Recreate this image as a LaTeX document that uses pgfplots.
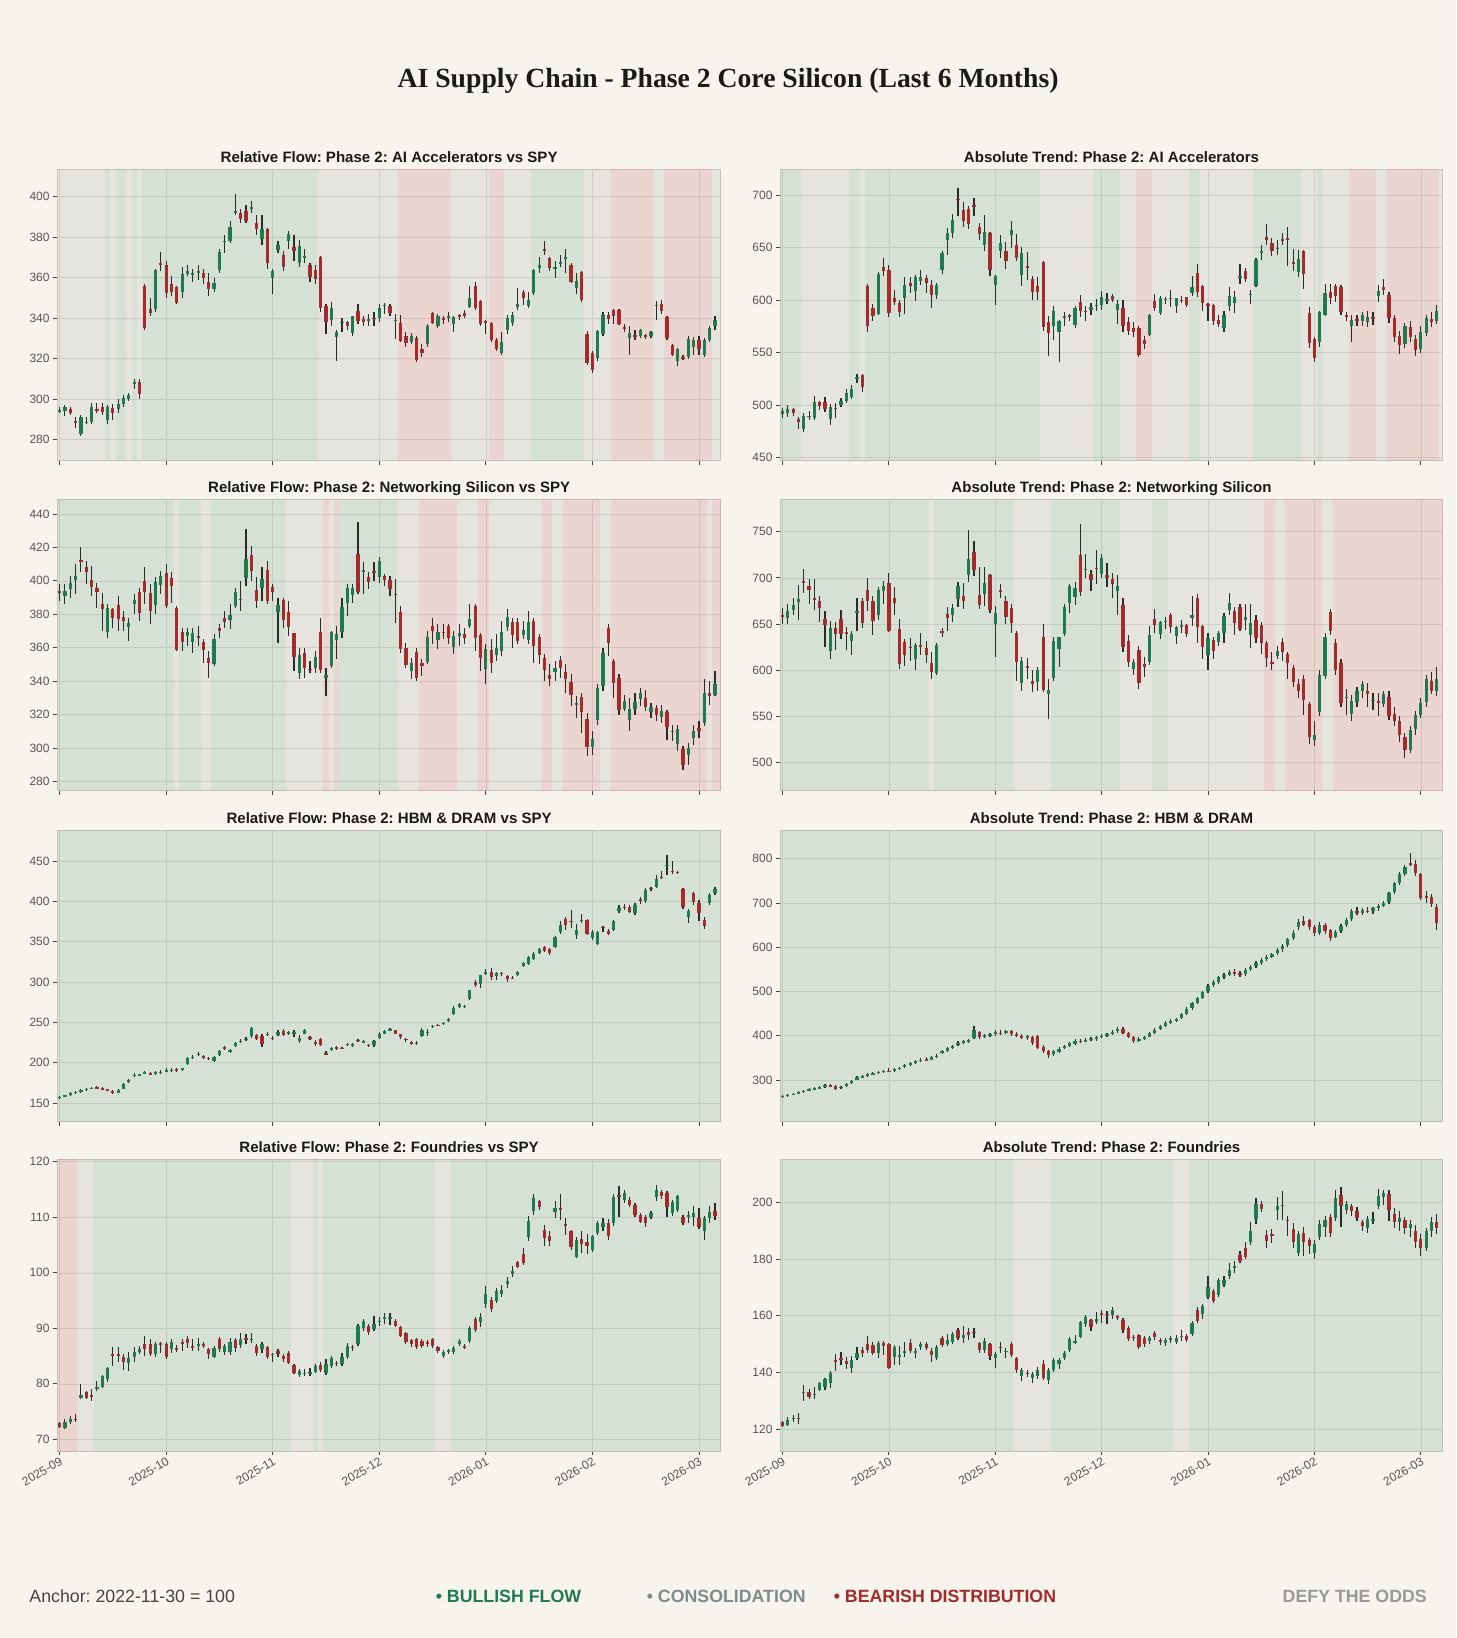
\documentclass[border=0pt]{standalone}
\usepackage{fontspec}
\setmainfont{Liberation Sans}
\newfontfamily\titfont{Liberation Serif}
\usepackage{pgfplots}
\usepackage{pgfplotstable}
\pgfplotsset{compat=1.18}
\definecolor{bg}{HTML}{F7F4EE}
\definecolor{bull}{HTML}{1E7B4F}
\definecolor{bear}{HTML}{A52A2A}
\definecolor{cons}{HTML}{7F8C8D}
\definecolor{wickc}{HTML}{2A2A2A}
\definecolor{framec}{HTML}{D3CCC4}
\definecolor{gridc}{HTML}{DEDAD3}
\definecolor{tickc}{HTML}{555555}
\definecolor{tickm}{HTML}{444444}
\definecolor{titc}{HTML}{1A1A1A}
\definecolor{footc}{HTML}{444444}
\definecolor{defyc}{HTML}{999999}

\pgfplotsset{
 panel/.style={
  scale only axis, height=279pt,
  xmin=-0.4, xmax=124.1,
  axis background/.style={fill=bg},
  axis line style={draw=framec, line width=0.9pt},
  grid=major, major grid style={draw=gridc, line width=0.6pt},
  xtick={0,20,40,60,80,100,120},
  xticklabels={,,,,,,},
  tick align=outside, major tick length=4pt,
  tick style={draw=tickm, line width=0.8pt},
  tick pos=left,
  every tick label/.append style={font=\fontsize{11.5}{13}\selectfont, text=tickc},
  /pgf/number format/assume math mode=true,
  scaled y ticks=false,
  title style={font=\frenchspacing\bfseries\fontsize{14.4}{16}\selectfont, text=titc, at={(0.5,1)}, anchor=base, yshift=0.5pt},
 },
 datelabels/.style={xticklabels={2025-09,2025-10,2025-11,2025-12,2026-01,2026-02,2026-03},
   xticklabel style={rotate=30, anchor=north east, inner sep=1pt}},
 /pgfplots/error bars/draw error bar/.code 2 args={\path[/pgfplots/every error bar] #1 -- #2;},
}

\newcommand{\band}[3]{\addplot[forget plot, mark=none, draw=none, fill=#3, fill opacity=0.15] coordinates {(#1,\ylo) (#1,\yhi) (#2,\yhi) (#2,\ylo)};}
\newcommand{\candles}[1]{%
\addplot[forget plot, mark=none, draw=none, error bars/.cd, y dir=both, y explicit, error mark=none, error bar style={draw=wickc, line width=1.1pt}]
 table[x expr=\coordindex, y expr={0.5*(\thisrow{h}+\thisrow{l})}, y error expr={0.5*(\thisrow{h}-\thisrow{l})}]{#1};
\addplot[forget plot, mark=none, draw=none, error bars/.cd, y dir=both, y explicit, error mark=none, error bar style={draw=bull, line width=3.1pt}]
 table[x expr=\coordindex, y expr={\thisrow{o}+0.5*max(\thisrow{c}-\thisrow{o},0)}, y error expr={0.5*max(\thisrow{c}-\thisrow{o},0)}]{#1};
\addplot[forget plot, mark=none, draw=none, error bars/.cd, y dir=both, y explicit, error mark=none, error bar style={draw=bear, line width=3.1pt}]
 table[x expr=\coordindex, y expr={\thisrow{c}+0.5*max(\thisrow{o}-\thisrow{c},0)}, y error expr={0.5*max(\thisrow{o}-\thisrow{c},0)}]{#1};
}

% Relative Flow: AI Accelerators vs SPY
\pgfplotstableread{
o h l c
294 296 293 294.5
294 297 291.5 296
295 296 292 293
289.5 291 286 288.5
283 292 282 291
288.5 291 288 289
289 298 288 296
295 298 293 294.5
296 298 292 293.5
290 297 288 296
295.5 297.5 290 293
295 300 293 297.5
297.5 302 296 300.5
300 303 299 302
308 310 305 308.5
308.5 310 300 302.5
356 357 334 335
344.6 350 341 342.6
344.6 364 343 363.6
367 372.5 363 366
366 368 350 352.5
357 361 351 353
355.5 356 347 347.5
353 365 350 361.5
361.5 366 361 363
361.5 364 358 362.2
362.3 366 359 363
362 364 357 360
358 362 351 354.5
354.5 360 353 357.5
363.6 374 362 372.5
377.5 381 372 378.2
378 388 377 385
392 401.3 391 392.6
392 394 387 389
393 396 387 388
394 397.5 392 394.6
387 391 381 384
379 391 376 384
384 384.5 364 367
360 364 352 363
373.5 378 372 376
371 373 363 365
378 383 374 381.5
375 381 368 373
367 378.5 365 375.5
370 374 367 370.5
366 367 358 360.5
363.5 366 357 359.5
370 370.5 343 345
346 347 332 338
339 348 336 345
330.5 334 319 333
337.5 340 333 338.2
338 338.5 334 336
332.5 341 331 341
343.5 347 337 338.5
339.5 341 336 338
338.5 342 336 339.5
340.2 343 336 339.7
340 347 338 345
346 347.5 342 346.6
346 347 341 342.5
338.5 342 329.5 339.2
337.5 341.5 328 328.5
331 333 326 327.5
328 332.5 327 331
330 331 318.5 319.5
325 327 321 323
327 337 326 336
342.5 343 337 337.5
336 342 335 341
340 341 337 339.5
340 343 338 341
337 341 333 340.5
341.5 342 339 340.7
342.5 344 340 341
345.5 356 345 350
356 358 344 345
348.5 349 336 337
338.5 339 332 338
337.5 338 328 329
329 330 324 325
323 333 322 328
334 341.5 332 340
337.5 343 336 341.5
345.5 355 344 347
353 354 346.5 350
346 353 345 349
352.5 364 351.5 363.5
364.5 370 362 366
374 378 371 373
369.5 370 363 364.5
364.5 368 360 365
367 371 365 367.6
369.5 374 362 370.2
366 367 357.5 358
355 362 352 358.5
362.5 363 348 349
332 333.5 317 318
323 324 313 314.5
320.5 334 319 333.5
332 343 331 341.5
341.5 343 337 339.5
344 344.5 337 341
344 344.5 336.5 337
335.5 337 333 334.5
330 336 322 332.5
331.5 334 329 331
331 334.5 330 334
331.5 332 329.5 331
331 333.5 330 333
346 348.5 339 346.6
347 349 342 343.5
340.5 341 329 330
326.5 327 321.5 322
319 325.5 316.5 325
321 322 319.5 320
321 331 320 329.5
326 330.5 322 329
329 331 322 325
322 330 321 329
329 336 328 335
336 341 334 339
}\tA

% Absolute: AI Accelerators
\pgfplotstableread{
o h l c
491 497 488 494
492 500 489 496.5
496 497 490 492
486.5 489 477 484
477 492 474 489.5
489 494 486 489.6
488 509 486 503
502.5 504 495 498.7
503 508 493 496
487 501 481 498.5
497.5 502 488 496.5
500 507 498 503.5
503.5 515 502 511
507.5 519 506 515.5
525.5 530 521 526.4
529 530 512 517
613 615 570 575
592 596 580 584.5
587 627 586 625
631.5 640 623 628
628.5 633 584 587.5
602 610 595 598
597 600 584 588.5
601.5 622 587 614.5
616 622 607 613.5
609 624 599 622
618 629 614 622
621 624 607 616.5
614 619 592 604.5
605 616 601 614
628.5 647 625 644.5
657 669 643 663.5
663.5 682 659 676.5
696.5 707 680 695.5
686 693 670 675.5
687 690 668 672
690.4 697 680 689
669.5 673 657 662.5
652 681 647 665
664 665 623 628.5
614 624 595 623
646.5 662 640 654
646.5 655 630 637.5
662 675 650 666.5
652.5 663 637 640
624 651 613 644.5
632 646 619 631.5
620 623 600 608
613.5 622 600 608
636 637 571 574
579 585 547 568.5
575 594 562 590
570 581 541 580
582.5 589 575 585
585.5 587 580 585
576 594 573 592.5
598 605 584 589.5
589.7 594 580 589
591 597 586 593
595 601 590 595.6
595.5 609 591 602.5
600 607 596 600.6
603.5 606 598 600.5
591 600 577 596.5
592.5 600 570 575.5
579 584 567 570.5
573 579 565 569.5
573 575 546 548
562 566 553 558
567 587 566 586
599.5 606 590 592.5
588 604 586 601.5
600.5 603 596 600.8
601 610 593 602
594 602 588 601.5
600.5 604 597 599.5
602.5 603 593 595.5
607 623 604 612
626 634 603 608
613 614 590 597
596 597 580 595
595 596 576 580.5
581 586 574 577
573.5 590 570 585.5
594 612 590 604
597 609 588 602.5
622 634 615 622.6
628 631 617 620
605.5 610 596 606.2
613 640 612 638
644.5 652 638 647
660.5 672 652 657.5
654 659 642 646.5
648.5 657 643 650
658 664 652 657
659 670 632 657.5
636 649 628 635.4
627 648 622 639
647 648 611 624.5
588 593 554 559.5
563 565 541 545
560 590 555 589
586 615 585 607
608 615 596 601.5
613.5 615 598 604
612 614 586 589
586 589 580 584.5
575 586 560 581
581.5 586 575 580.8
580 589 575 586
579 590 574 584
584 589 576 582
604 614 598 609
612.5 620 605 610
605 608 578 583
583 586 560 565
566 571 549 557
558 578 554 575
574 580 560 565
563 567 547 552
553 575 550 570
569 586 566 583
582 589 574 579
580 595 577 590
}\tB

% Relative: Networking Silicon vs SPY
\pgfplotstableread{
o h l c
393.8 398 388 393.2
391 398 386 394
395 403 390 399
400.6 410 392 403
412.6 420 405 411.2
408 412 398 405
400.6 409 391 396.6
396 399 384 393.6
386 393 370 383
369.6 386 366 383.6
383.2 384 372 378
385.6 391 370 377.2
378.2 382 370 376.2
372.6 378 364 374.6
386 392 380 388.6
393.6 396 376 380.6
400.2 408 386 393.6
392.6 398 374 382
385.6 402 380 399.6
397.6 406 392 402.6
404.6 410 384 385.2
401.6 405 387 397.2
383.6 385 358 358.6
369.2 372 358 363.2
367 372 361 369.6
363.2 372 357 368.6
366.8 373 361 366.4
363.6 365 351 358.6
353.6 358 342 350.6
350 368 349 365.2
371.6 374 366 370
378 382 372 375.2
376.6 386 371 379.6
385.2 396 384 393.2
389.2 400 382 389
401.6 431 397 413.2
415.6 421 400 405.6
394.6 402 384 388.2
395.6 408 388 401
406.4 412 386 388
396.6 398 388 393.6
381.2 390 363 385.6
388.6 390 372 376.6
381.2 388 367 372.6
368.6 369 346 354.6
344.6 360 341 355.6
356.6 360 342 347.6
347.4 352 345 347
347.6 358 345 354.6
369.6 378 345 346.6
342 348 331 343.6
349.2 370 348 369.2
364.6 373 353 368
369.6 390 366 384.6
386.6 398 379 395.6
391.6 398 387 396
416 435 392 393.2
405.8 411 392 406.2
402 405 395 399.2
406 411 400 404.6
402 414 399 412
402.6 404 397 400.6
400.6 403 391 395.2
392.2 401 375 392
381.6 385 357 359.2
360 363 348 349.6
346 354 341 350.6
357.6 360 340 342
350.6 353 343 349.2
351.2 370 350 366.6
373.2 378 362 370
364.6 374 359 369.2
369.6 374 365 369.4
372.8 374 362 365.6
360.6 370 356 367.2
367.2 374 361 368.6
368 372 362 366
373.2 386 372 377
385.2 386 358 365.6
367.6 369 346 354
347.2 362 338 359.2
358.6 365 345 350.6
355.6 368 352 360
358 376 355 369.6
372.6 383 370 378.6
375.2 378 360 367.6
375.6 378 362 364
367.6 376 365 370.6
364.6 382 362 375.2
376 378 351 361.2
366.6 368 350 355.6
354 356 340 346.6
343.6 350 337 341.2
345.6 352 340 347.6
352.6 355 342 347.6
345.6 350 333 341.2
339.6 344 325 331.6
326.4 331 318 326.8
330.6 333 309 321.6
317.6 321 295 300.6
300.6 310 296 305.2
316.6 338 314 335.6
337.2 360 334 356.6
372 374 355 362.6
352 353 330 338.6
342 344 320 322.6
323.6 332 322 328
316.6 330 310 323.6
323.2 333 320 327.6
329.2 336 325 333.2
330 335 322 324.6
321.6 327 318 324.6
324 326 316 319.6
318.6 326 315 322
321.6 323 305 312.6
309.8 314 304 310.2
302.6 314 298 311.2
299.6 301 287 289.6
296 303 290 300
306 314 302 310
312 316 306 310
315 341 313 333
333 340 326 331
332 346 331 338
}\tC

% Absolute: Networking Silicon
\pgfplotstableread{
o h l c
660 667 650 658.5
656.5 672 650 663.8
665.6 678 660 671
674 692 654 677.5
696.4 710 684 694.6
691 699 672 687.3
678.3 699 665 676.5
675.4 680 652 667.4
655.8 664 625 648.6
621 653 612 645.5
645.5 652 622 639
655.8 665 634 639
641 647 622 640.5
632 642 617 639.3
661.6 678 643 663.8
674.6 678 646 651
687.3 700 664 674.6
674.6 680 638 653
659.4 690 654 687.3
685.5 697 672 691
694.6 705 641 642.8
678.3 690 660 672.8
645 656 601 606.5
630.4 634 605 616
625.2 635 610 624.8
612.3 630 600 626.8
627 640 616 626.4
624 632 608 616
607.7 620 590 598.5
596.8 630 595 626.8
642.8 646 636 640.2
660.4 668 643 656.5
660 672 652 667.4
677.5 695 668 691
680.4 694 666 674.6
702.9 752 696 719.9
728.3 740 702 708
681.8 712 666 670.3
682.6 712 670 694.6
702.9 704 662 665.6
650 670 614 662
686.4 693 678 685.6
675.4 680 650 657.3
667.4 672 640 651
640.2 642 588 609.4
585.8 614 578 610
605 613 590 603
588.4 600 576 584.8
587.8 603 578 600.4
635.6 650 576 578.6
573.9 590 547 578.6
591.3 636 588 631.2
623.2 636 603 635.5
639.5 672 637 668.1
672.8 693 662 691
679 695 671 689
724.6 758 680 684.8
709 726 700 709.6
704.3 708 686 698.2
711 730 693 710.4
704.3 726 700 721
703.6 716 690 700
699.3 705 678 693.5
686.2 703 660 691
671 678 620 625.7
632 638 603 608.7
601.4 612 595 608.7
622 626 580 585.8
606.5 614 593 604
608.7 648 606 638.4
655.8 666 640 648.6
639 653 634 652.2
652.2 658 645 653.6
659.4 662 640 646.4
636.6 648 628 646.4
647.5 654 640 649.3
648.6 650 636 639.2
656.5 680 648 659.4
678.3 682 630 646.4
647.5 649 612 625.7
616.7 640 600 634.8
632.9 636 612 621
630.4 642 626 640.2
640.2 662 630 658.3
665.6 684 660 672.8
664.5 668 638 651
668.1 672 642 644.9
654.7 672 644 657.3
638.4 672 624 651
654.7 660 630 634.8
649.3 652 618 629.3
629.3 632 604 613
608.7 620 600 606.5
614.9 626 612 620.3
630.4 635 610 619.5
617.4 620 590 607.6
602.2 606 582 587.7
584.8 590 570 577.5
590.6 595 552 567.8
563 566 520 527.9
524.3 545 518 530.4
555 600 550 595
594.2 640 590 635.5
663 666 638 642.8
629.3 634 595 600.4
607.6 612 560 564.1
570 580 552 571
552.2 573 545 566.7
566 582 560 577
577.5 588 570 585
577 586 560 574
566.7 575 557 568
566.7 575 550 564.1
564 578 560 574
571 578 546 551
553 560 540 545
545 550 522 530
528 532 505 514
514 540 510 535
536 556 530 552
552 570 548 565
566 595 560 590
588 598 574 578
578 604 572 590
}\tD

% Relative: HBM & DRAM vs SPY
\pgfplotstableread{
o h l c
156.5 159 155 158
158 160.5 157 159.5
160 163.5 159 162.5
162.5 165.5 161.5 164
164 167 163 166
166.5 169 165.5 167.5
168 170.5 167 169
169.5 171 167.5 168.5
168.5 169.5 166 167.5
167 168 164.5 165.5
165.5 166 161.5 162.5
163 167 162 166
168 174.5 167 173.5
176 180 175 178.5
183.5 187 182 185
184.5 186 183 185.5
187 190 186 188
187 188 185 186
186 190 185 189
188 191 186 189
190 193 189 190.6
190 193 189 191.5
192 193 189 190
191.5 194 190 193
198 207 197 205.5
206 210 204 207
210 213 208 211
208.5 210 204 205.5
206 207 203 205.4
202.5 208 201 206.5
209 216 208 214
219 221 216 217.5
213 217 212 215.5
220.5 226 219 224.5
226 230 225 227.5
229 232 227 230
233 244 231 242.5
234.5 236 228 229
233 236 220 223
235 238 233 236
231 233 228 230
234.5 240 233 238
239 242 233 234.5
235 239 234 238
236.5 240 232 237.5
227.5 234 225 231
236 242 235 240
232 232.5 228 229
226 228 221 224
230 231 221 222.5
212 214 209 210.5
216 220 215 218
220 221 216 217.5
218.5 220 217 217.5
223.5 225 221 222
222 224 219 222.6
228.5 230 226 227.5
225.5 228 224 226.5
222 223 220 221.4
222 228 220 226.5
231 238 230 236
236 241 235 239.5
240 243 239 241.5
240 241 235 236
235 236 230 232
230 231 226 229
226 227 222 223
224 227 222 225
233 243 232 240
237 242 233 238
244.5 247 243 245.5
247 248 245 246
248.5 251 247 249.5
252 255 251 254
260 270 259 268
269.5 274 268 272.5
270 272 268 270.6
278.5 290 278 289.5
300.5 302 294 296.5
297 309 292 308.5
311 316 309 312
312 317 302 306.5
307 313 303 311
311.5 313 307 310.5
307.5 309 300 303.5
305.5 307 304 305
309 314 307 313
320 325 319 324
322 332 321 330.5
328 337 327 335
336.5 342 335 340.5
343 345 337 339
340.5 342 334 335.5
343 357 342 356
362.5 375 359 371
378 380 365 371
376 389 367 375
358.5 372 353 364.5
376 384 373 377
376.5 378 358 359.5
355 364 352 361.5
347 363 346 361.5
368 370 362 367.5
363.5 366 358 359.5
364.5 377 363 376
387.5 396 386 391.5
393.5 397 389 393
393.5 395 385 386.5
385 398 383 396
403 405 397 400
400 416 398 414
417 418 413 415
418 432 416 428
430.5 437 428 430
444 457 432 445
438 450 434 437.5
436 438 434 435.5
415 416 390 393
380 390 373 387.5
410 412 395 399
398 402 375 385
377 381 366 370
398 410 395 408
410 418 408 415
}\tE

% Absolute: HBM & DRAM
\pgfplotstableread{
o h l c
262 266 260 264
264 268 262 266.5
267 271 265 269
270 274 268 272
273 278 271 276
277 281 275 278.5
279 283 277 281
281 286 279 283
283 290 282 288
288 291 284 285
286 288 278 280.5
281 287 279 285
286 293 284 291
293 300 291 298
301 309 299 306
306 312 304 309.5
309 315 306 313
313 319 311 316
316 321 313 318
319 323 315 321
321 326 317 319
320 326 318 324
325 330 322 328
330 336 328 334
335 340 332 338
338 345 335 342
343 349 341 346
347 351 343 345
346 354 344 351
352 358 349 355
360 368 358 365
366 375 364 372
373 380 370 377
378 387 376 384
385 391 381 387
386 393 383 391
395 422 393 413
408 411 393 397
398 405 394 402
401 407 397 404
404 412 400 409
407 413 401 405
406 414 403 411
410 412 400 403
404 408 397 400
400 405 393 396
397 402 390 399
396 399 380 384
400 402 370 372
375 380 362 366
365 368 350 357
358 368 355 365
364 375 362 371
372 379 369 376
377 386 374 383
382 392 380 388
389 393 384 387
387 394 385 391
391 397 388 393
392 399 389 396
397 403 394 400
400 407 397 404
405 412 402 409
410 420 407 416
416 419 404 407
406 409 395 398
398 400 384 388
389 396 385 393
394 400 390 397
398 409 396 406
406 417 404 414
415 425 412 422
422 433 419 429
430 437 426 434
434 441 430 437
440 452 437 449
450 464 447 461
462 476 459 473
474 488 471 485
486 502 483 499
500 517 497 513
514 526 510 521
522 536 518 532
533 542 528 537
538 549 535 545
545 550 536 540
541 547 533 538
539 552 536 549
550 560 546 556
557 568 553 564
565 576 561 572
573 582 569 578
579 588 575 585
586 598 582 594
595 608 590 603
604 622 600 618
620 638 616 633
645 665 640 658
660 670 648 651
662 665 640 645
645 650 625 632
632 656 628 651
650 655 630 636
638 642 615 622
624 638 620 634
636 652 632 648
650 666 646 662
664 686 660 681
683 690 673 678
677 688 672 684
683 692 678 680
681 691 676 688
688 698 683 694
694 705 690 701
702 726 698 722
724 748 720 745
746 770 740 765
766 786 760 781
790 812 783 788
788 798 760 769
765 768 706 712
715 728 700 711
713 720 690 697
692 698 640 655
}\tF

% Relative: Foundries vs SPY
\pgfplotstableread{
o h l c
72.9 73.1 72.1 72.3
72.1 73.6 71.9 73.1
73.1 74.2 72.8 73.6
73.7 74.6 73.2 73.5
77.5 80 77.2 78
78.6 78.8 77.3 77.5
78 79 77 77.8
79 80.5 78.8 79.5
79.4 81.6 79.2 81.4
80.8 83.1 80.3 82.9
85.3 86.6 83.3 85.1
85.3 86.6 84 85.1
84.9 85.3 82.5 84
83.7 85.8 82.3 84.7
84.9 86.6 84 85.7
85.7 86.9 85.3 86.3
87.2 88.6 85 86.3
87.2 88 85 85.4
85.4 87.6 84.8 87.2
87.3 87.6 85.5 87.1
87.2 87.6 84.5 84.8
86.3 88 85.5 87.6
86.4 87 85.7 86.2
87.5 88 86 87.3
88.1 88.6 86.5 87.3
86.8 88.1 86 86.6
87 88.2 86 87.15
87.2 87.6 86.5 86.9
86.3 86.5 84.5 85.3
84.9 86.9 84.6 86.4
88.1 88.5 85.8 86.3
85.8 87.2 85.2 86.8
85.7 88.2 85.2 87.5
87.9 88.2 85.8 86.4
87 89.2 86.5 88
88.2 89 87.2 87.9
87.9 89.2 87.3 88.1
86.9 87.2 85.1 85.5
86.2 87.5 85.6 87.2
86.6 86.9 84.4 84.8
85.2 85.6 84 85.4
86 86.2 84.9 85.3
85 85.3 84 84.4
85.6 86 83.5 83.7
83.4 83.6 81.7 82
81.6 82.7 81.2 82.3
81.85 82.6 81.4 82
81.7 82.8 81.5 82.2
82.2 83.5 82 83.2
83.4 83.9 82.2 82.5
81.9 84.5 81.6 83.6
83.3 85.1 82.9 84.6
83.8 84.1 83.3 83.6
83.6 85.5 83.2 84.8
84.8 87.3 84.5 86.9
86.7 87 85.9 86.4
87.2 90.8 86.9 90.5
90.1 91.7 89.5 91.4
90.5 90.8 88.8 89.3
89.9 92.2 89.5 90.8
91.2 92.1 90.4 91.35
91.7 92.7 90.8 92.1
91.6 92.7 90.6 92.1
91.4 91.6 90.2 90.5
90.3 90.5 88.4 88.7
89.1 89.3 87.2 87.5
87.9 88.1 86.6 87.2
88.1 88.3 86.3 86.7
87.8 88 86.5 86.9
87.5 87.9 86.7 87.1
88.1 88.3 86.5 86.9
86.6 86.9 85.6 85.9
85.1 86.1 84.6 85.7
85.7 86.3 85.4 86.1
85.7 86.8 85.4 86.5
87.1 88 86.8 87.7
86.8 87.1 86.3 86.6
87.7 90.4 87.4 90.1
91.7 92 89.3 89.7
91.1 92.8 90.3 92
94.3 97.6 93.7 96.1
95.1 95.6 93 93.5
94.9 97.2 94.6 96.8
96.1 97.8 95.7 96.9
97.9 99.3 97.3 98.6
99.8 101.2 99.2 100.4
101.9 102.2 100.8 101.1
103.4 104.5 101.4 101.7
106.4 110.3 105.8 109.3
111.1 114.2 110.5 113.4
112.9 113.2 111.4 111.9
107.7 108.7 104.9 106.3
106.6 107.5 104.9 105.8
111 113 109.9 111.6
111.6 114.2 109.5 111.4
108.8 109.8 106.9 108.6
107.5 107.8 104.2 104.6
102.9 106.5 102.6 106
106.1 107.5 103.5 105.2
105.5 107 103.4 104.9
104.2 106.8 103.8 106.6
107.2 109.4 106.8 109
108.3 109.9 107.5 109
109 109.7 106 106.7
108.9 114.2 108.5 113.6
114 115.7 110 113.8
113.1 115 112.5 114.3
113.2 113.6 111.8 112.2
112.2 112.6 110 110.4
110.4 110.7 108.9 109.2
110.1 110.4 108.3 108.9
110.1 111.1 109.7 110.8
113.6 115.9 113 115
114.6 114.9 113.3 113.8
114.4 114.7 110 111.9
110.7 113.2 110.2 112.8
111.4 114.1 111 113.8
110.1 110.5 108.7 109
110.1 111.2 109 110.5
110 112 108.5 110.8
109.8 111.7 107.9 108.3
107.5 110.3 106 109.8
109.8 112 109 111
111.2 112.5 109.5 110.2
}\tG

% Absolute: Foundries
\pgfplotstableread{
o h l c
122.3 122.8 120.6 121.1
121.5 124.2 121 123.2
123.6 125 122.5 123.8
124 125.6 121.8 123.7
133 135.5 130 133.2
133.2 134 130.6 131.4
132.2 134.8 130.5 132.4
133.8 136.5 133.5 136.1
134.7 138.1 133.6 137.5
136.1 140.5 134.6 139.9
144.2 146.6 140.6 144
144.9 147.3 142.5 144.3
144.1 145.4 141.3 143.1
141.7 145.8 139.8 144.5
145.2 148.9 144.4 146.7
147.9 148.8 145.6 146.7
149.9 152.7 147 148
149.6 150.6 146 146.7
146.7 151.2 145.2 150.5
150.4 151 146 149.2
149.9 150.5 141.1 141.4
145.5 149.6 142.6 149
145.5 149.4 142.5 146.1
147 150.7 145.5 147.5
150.2 151.8 147 147.6
146.7 148.6 145 147.6
149 150.7 148 150
149.9 150.9 148 148.7
147.7 148.5 143.5 146
144.9 149.5 144.2 149
152.3 152.8 149 149.6
149.9 153.5 149.2 151.6
150.8 154.2 150 153.7
155.1 155.6 151.4 152
152.3 156.5 150.4 153.1
154.3 155.6 151.5 153.1
154.4 155.8 152.2 154.2
150.2 150.6 146.8 147.8
147.8 152.3 147 151.1
150 150.5 144.5 145.7
145 147.3 141.7 146.6
149.1 150.6 146.8 149
147.5 148.5 145 147.7
150 150.8 145.3 146.1
144.9 145.3 139.9 140.8
138.7 141.7 137 141
139.9 141 138.2 139.8
137.9 140.1 136.3 139.4
138.7 141.9 137.6 141
143.1 144.5 137.4 137.9
137.3 141.6 135.9 140.8
141 145.2 140.2 144.5
143.1 145 141.2 144.3
144.9 147.5 144.5 146.7
147.8 152.4 147.3 151.9
150.4 153.2 150 151.1
152.5 158.3 152 157.8
157.2 160.3 156.2 159.6
158.4 158.8 154.5 156
157.8 161.5 157 158.9
160.9 162.2 157.5 160.7
160.6 161.6 157 160.4
160.1 163 159 161.9
159.8 160.2 158.5 159.3
158.6 159.2 154 154.9
155.8 156.4 151.2 151.9
152.4 153.1 151 152.3
153.1 153.6 148.1 148.8
152.3 152.7 149.1 150
151.1 153 150 152.3
153.9 154.5 151.5 152.5
151.6 152 149.6 150.8
150.2 152 149.2 151.4
151.6 153 150.5 152.3
150.8 153.2 150 152.3
152.8 155 151.2 153
152.8 153.4 150.8 151.4
153.7 158 153 157.4
161.9 163 157.5 158.1
160.5 164.2 159 163.3
166.8 173.9 166 170.3
168.7 169.5 164.4 165.2
167.2 173.5 166.5 172.5
171 174.1 170 172.5
174.2 178.5 173 176
177.1 179.5 175 177.7
181.6 182.8 178.5 179.2
183.9 186 180 180.6
186 193.1 185 190.1
194.1 201.5 192.5 199.4
199.4 200.5 196.8 197.7
188.6 190.2 184 186.3
188.9 190.5 185.6 188.3
197.3 201.9 194 198.8
199 204 194 199.2
193.9 195.2 188.2 193.7
190.6 192.8 183.9 185.9
182.1 190.1 181 188.9
189.4 191.5 181.2 185.9
186.8 187.6 182 184.8
182.1 186.8 180.2 185.3
187.7 193.8 186.8 192.4
191.4 195.3 188 193.8
195 196 188 189.1
194.7 204.5 193.6 201.5
202.7 205.6 191.5 198.8
197.3 200.7 195.8 199.6
198.8 199.4 195.4 197.1
197.1 198.4 193.5 194.7
193 194 189.8 191.8
191 195.4 189.3 194.1
193.6 196.5 192.3 194.1
198.8 204.7 197.9 202.3
201.8 204.5 199 203.5
203.2 204.4 193.5 197.3
196 198 191 193
193 197 190 194.5
194 195 189 191
191 194 188 192.5
190 192 184 186
187 189 181 184
184 191 183 190
190 195 188 193
193 196 189 191
}\tH

\begin{document}
\frenchspacing
\begin{tikzpicture}
\fill[bg] (0pt,0pt) rectangle (1394pt,-1568pt);
\node[anchor=base, inner sep=0pt, font=\titfont\bfseries\fontsize{26.5}{30}\selectfont, text=titc] at (697pt,-84pt) {AI Supply Chain - Phase 2 Core Silicon (Last 6 Months)};

% Row 1 left
\def\ylo{268}\def\yhi{415}
\begin{axis}[panel, at={(55pt,-162pt)}, anchor=north west, width=635pt,
  ymin=269.7, ymax=413.4, ytick={280,300,...,400},
  title={Relative Flow: Phase 2: AI Accelerators vs SPY}]
\band{-1}{8.5}{cons}\band{8.5}{9.5}{bull}\band{9.5}{10.5}{cons}\band{10.5}{12.5}{bull}
\band{12.5}{13.5}{cons}\band{13.5}{14.5}{bull}\band{14.5}{15.5}{cons}\band{15.5}{48.5}{bull}
\band{48.5}{63.5}{cons}\band{63.5}{73.5}{bear}\band{73.5}{80.5}{cons}\band{80.5}{83.5}{bear}
\band{83.5}{88.5}{cons}\band{88.5}{98.5}{bull}\band{98.5}{103.5}{cons}\band{103.5}{111.5}{bear}
\band{111.5}{113.5}{cons}\band{113.5}{122.5}{bear}\band{122.5}{125}{cons}
\candles{\tA}
\end{axis}

% Row 1 right
\def\ylo{445}\def\yhi{727}
\begin{axis}[panel, at={(747pt,-162pt)}, anchor=north west, width=634pt,
  ymin=447, ymax=724.6, ytick={450,500,...,700},
  title={Absolute Trend: Phase 2: AI Accelerators}]
\band{-1}{3.5}{bull}\band{3.5}{12.5}{cons}\band{12.5}{14.5}{bull}\band{14.5}{15.5}{cons}
\band{15.5}{48.5}{bull}\band{48.5}{58.5}{cons}\band{58.5}{63.5}{bull}\band{63.5}{66.5}{cons}
\band{66.5}{69.5}{bear}\band{69.5}{76.5}{cons}\band{76.5}{78.5}{bull}\band{78.5}{88.5}{cons}
\band{88.5}{97.5}{bull}\band{97.5}{100.5}{cons}\band{100.5}{101.5}{bull}\band{101.5}{106.5}{cons}
\band{106.5}{111.5}{bear}\band{111.5}{113.5}{cons}\band{113.5}{123.5}{bear}\band{123.5}{125}{cons}
\candles{\tB}
\end{axis}

% Row 2 left
\def\ylo{272}\def\yhi{451}
\begin{axis}[panel, at={(55pt,-478pt)}, anchor=north west, width=635pt,
  ymin=274.4, ymax=448.75, ytick={280,300,...,440},
  title={Relative Flow: Phase 2: Networking Silicon vs SPY}]
\band{-1}{21.5}{bull}\band{21.5}{22.5}{cons}\band{22.5}{26.5}{bull}\band{26.5}{28.5}{cons}
\band{28.5}{42.5}{bull}\band{42.5}{49.5}{cons}\band{49.5}{50.5}{bear}\band{50.5}{51.5}{cons}
\band{51.5}{52.5}{bear}\band{52.5}{63.5}{bull}\band{63.5}{67.5}{cons}\band{67.5}{74.5}{bear}
\band{74.5}{78.5}{cons}\band{78.5}{80.5}{bear}\band{80.5}{90.5}{cons}\band{90.5}{92.5}{bear}
\band{92.5}{94.5}{cons}\band{94.5}{101.5}{bear}\band{101.5}{103.5}{cons}\band{103.5}{121.5}{bear}
\band{121.5}{122.5}{cons}\band{122.5}{125}{bear}
\candles{\tC}
\end{axis}

% Row 2 right
\def\ylo{467}\def\yhi{788}
\begin{axis}[panel, at={(747pt,-478pt)}, anchor=north west, width=634pt,
  ymin=469.5, ymax=785, ytick={500,550,...,750},
  title={Absolute Trend: Phase 2: Networking Silicon}]
\band{-1}{27.5}{bull}\band{27.5}{28.5}{cons}\band{28.5}{43.5}{bull}\band{43.5}{50.5}{cons}
\band{50.5}{63.5}{bull}\band{63.5}{69.5}{cons}\band{69.5}{72.5}{bull}\band{72.5}{90.5}{cons}
\band{90.5}{92.5}{bear}\band{92.5}{94.5}{cons}\band{94.5}{101.5}{bear}\band{101.5}{103.5}{cons}
\band{103.5}{125}{bear}
\candles{\tD}
\end{axis}

% Row 3 left
\def\ylo{124}\def\yhi{490}
\begin{axis}[panel, at={(55pt,-795pt)}, anchor=north west, width=635pt,
  ymin=126.6, ymax=487.7, ytick={150,200,...,450},
  title={Relative Flow: Phase 2: HBM \& DRAM vs SPY}]
\band{-1}{125}{bull}
\candles{\tE}
\end{axis}

% Row 3 right
\def\ylo{200}\def\yhi{870}
\begin{axis}[panel, at={(747pt,-795pt)}, anchor=north west, width=634pt,
  ymin=205, ymax=864, ytick={300,400,...,800},
  title={Absolute Trend: Phase 2: HBM \& DRAM}]
\band{-1}{125}{bull}
\candles{\tF}
\end{axis}

% Row 4 left
\def\ylo{67}\def\yhi{121}
\begin{axis}[panel, at={(55pt,-1110pt)}, anchor=north west, width=635pt,
  ymin=67.9, ymax=120.4, ytick={70,80,...,120}, datelabels,
  title={Relative Flow: Phase 2: Foundries vs SPY}]
\band{-1}{3.5}{bear}\band{3.5}{6.5}{cons}\band{6.5}{43.5}{bull}\band{43.5}{47.5}{cons}
\band{47.5}{48.5}{bull}\band{48.5}{49.5}{cons}\band{49.5}{70.5}{bull}\band{70.5}{73.5}{cons}
\band{73.5}{125}{bull}
\candles{\tG}
\end{axis}

% Row 4 right
\def\ylo{111}\def\yhi{217}
\begin{axis}[panel, at={(747pt,-1110pt)}, anchor=north west, width=634pt,
  ymin=112.2, ymax=215.2, ytick={120,140,...,200}, datelabels,
  title={Absolute Trend: Phase 2: Foundries}]
\band{-1}{43.5}{bull}\band{43.5}{50.5}{cons}\band{50.5}{73.5}{bull}\band{73.5}{76.5}{cons}
\band{76.5}{125}{bull}
\candles{\tH}
\end{axis}

% Footer
\node[anchor=base west, inner sep=0pt, font=\fontsize{17}{20}\selectfont, text=footc] at (28pt,-1534pt) {Anchor: 2022-11-30 = 100};
\node[anchor=base west, inner sep=0pt, font=\bfseries\fontsize{17}{20}\selectfont, text=bull] at (417pt,-1534pt) {• BULLISH FLOW};
\node[anchor=base west, inner sep=0pt, font=\bfseries\fontsize{17}{20}\selectfont, text=cons] at (619pt,-1534pt) {• CONSOLIDATION};
\node[anchor=base west, inner sep=0pt, font=\bfseries\fontsize{17}{20}\selectfont, text=bear] at (798pt,-1534pt) {• BEARISH DISTRIBUTION};
\node[anchor=base east, inner sep=0pt, font=\bfseries\fontsize{17}{20}\selectfont, text=defyc] at (1366pt,-1534pt) {DEFY THE ODDS};
\end{tikzpicture}
\end{document}
